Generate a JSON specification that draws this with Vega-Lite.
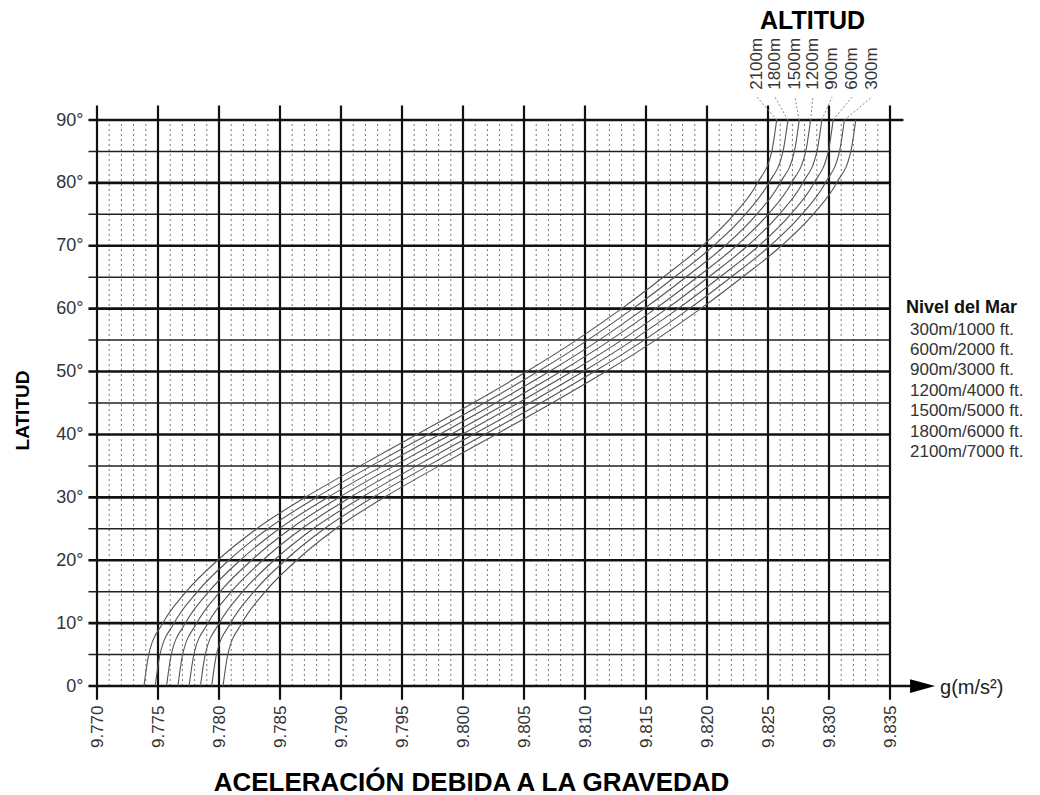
{
  "$schema": "https://vega.github.io/schema/vega-lite/v6.json",
  "width": 793,
  "height": 566,
  "autosize": {"type": "none"},
  "padding": {"left": 97, "top": 120, "right": 150, "bottom": 109},
  "background": "white",
  "config": {"view": {"stroke": null}, "font": "Liberation Sans"},
  "datasets": {
    "vmen": [{"g":9.771},{"g":9.772},{"g":9.773},{"g":9.774},{"g":9.776},{"g":9.777},{"g":9.778},{"g":9.779},{"g":9.781},{"g":9.782},{"g":9.783},{"g":9.784},{"g":9.786},{"g":9.787},{"g":9.788},{"g":9.789},{"g":9.791},{"g":9.792},{"g":9.793},{"g":9.794},{"g":9.796},{"g":9.797},{"g":9.798},{"g":9.799},{"g":9.801},{"g":9.802},{"g":9.803},{"g":9.804},{"g":9.806},{"g":9.807},{"g":9.808},{"g":9.809},{"g":9.811},{"g":9.812},{"g":9.813},{"g":9.814},{"g":9.816},{"g":9.817},{"g":9.818},{"g":9.819},{"g":9.821},{"g":9.822},{"g":9.823},{"g":9.824},{"g":9.826},{"g":9.827},{"g":9.828},{"g":9.829},{"g":9.831},{"g":9.832},{"g":9.833},{"g":9.834}],
    "vmay": [{"g":9.770},{"g":9.775},{"g":9.780},{"g":9.785},{"g":9.790},{"g":9.795},{"g":9.800},{"g":9.805},{"g":9.810},{"g":9.815},{"g":9.820},{"g":9.825},{"g":9.830},{"g":9.835}],
    "hmay": [{"lat":10},{"lat":20},{"lat":30},{"lat":40},{"lat":50},{"lat":60},{"lat":70},{"lat":80}],
    "hmen": [{"lat":5},{"lat":15},{"lat":25},{"lat":35},{"lat":45},{"lat":55},{"lat":65},{"lat":75},{"lat":85}],
    "series": [
      {"h":300,"leyenda":"300m/1000 ft.","etiqueta":"300m","g":9.83352,"g90":9.83126},
      {"h":600,"leyenda":"600m/2000 ft.","etiqueta":"600m","g":9.83189,"g90":9.83034},
      {"h":900,"leyenda":"900m/3000 ft.","etiqueta":"900m","g":9.83025,"g90":9.82941},
      {"h":1200,"leyenda":"1200m/4000 ft.","etiqueta":"1200m","g":9.82869,"g90":9.82849},
      {"h":1500,"leyenda":"1500m/5000 ft.","etiqueta":"1500m","g":9.82721,"g90":9.82756},
      {"h":1800,"leyenda":"1800m/6000 ft.","etiqueta":"1800m","g":9.82557,"g90":9.82663},
      {"h":2100,"leyenda":"2100m/7000 ft.","etiqueta":"2100m","g":9.82410,"g90":9.82571}
    ],
    "curvas": [
      {"h":0,"lat":0,"g":9.78033},{"h":0,"lat":5,"g":9.78072},{"h":0,"lat":10,"g":9.78188},{"h":0,"lat":15,"g":9.78379},{"h":0,"lat":20,"g":9.78637},{"h":0,"lat":25,"g":9.78956},{"h":0,"lat":30,"g":9.79355},{"h":0,"lat":35,"g":9.79804},{"h":0,"lat":40,"g":9.80270},{"h":0,"lat":45,"g":9.80730},{"h":0,"lat":50,"g":9.81170},{"h":0,"lat":55,"g":9.81578},{"h":0,"lat":60,"g":9.81948},{"h":0,"lat":65,"g":9.82289},{"h":0,"lat":70,"g":9.82610},{"h":0,"lat":75,"g":9.82870},{"h":0,"lat":80,"g":9.83062},{"h":0,"lat":85,"g":9.83179},{"h":0,"lat":90,"g":9.83219},
      {"h":300,"lat":0,"g":9.77940},{"h":300,"lat":5,"g":9.77979},{"h":300,"lat":10,"g":9.78095},{"h":300,"lat":15,"g":9.78286},{"h":300,"lat":20,"g":9.78544},{"h":300,"lat":25,"g":9.78863},{"h":300,"lat":30,"g":9.79262},{"h":300,"lat":35,"g":9.79711},{"h":300,"lat":40,"g":9.80177},{"h":300,"lat":45,"g":9.80637},{"h":300,"lat":50,"g":9.81077},{"h":300,"lat":55,"g":9.81485},{"h":300,"lat":60,"g":9.81855},{"h":300,"lat":65,"g":9.82196},{"h":300,"lat":70,"g":9.82517},{"h":300,"lat":75,"g":9.82777},{"h":300,"lat":80,"g":9.82969},{"h":300,"lat":85,"g":9.83086},{"h":300,"lat":90,"g":9.83126},
      {"h":600,"lat":0,"g":9.77848},{"h":600,"lat":5,"g":9.77887},{"h":600,"lat":10,"g":9.78003},{"h":600,"lat":15,"g":9.78194},{"h":600,"lat":20,"g":9.78452},{"h":600,"lat":25,"g":9.78771},{"h":600,"lat":30,"g":9.79170},{"h":600,"lat":35,"g":9.79619},{"h":600,"lat":40,"g":9.80085},{"h":600,"lat":45,"g":9.80545},{"h":600,"lat":50,"g":9.80985},{"h":600,"lat":55,"g":9.81393},{"h":600,"lat":60,"g":9.81763},{"h":600,"lat":65,"g":9.82104},{"h":600,"lat":70,"g":9.82425},{"h":600,"lat":75,"g":9.82685},{"h":600,"lat":80,"g":9.82877},{"h":600,"lat":85,"g":9.82994},{"h":600,"lat":90,"g":9.83034},
      {"h":900,"lat":0,"g":9.77755},{"h":900,"lat":5,"g":9.77794},{"h":900,"lat":10,"g":9.77910},{"h":900,"lat":15,"g":9.78101},{"h":900,"lat":20,"g":9.78359},{"h":900,"lat":25,"g":9.78678},{"h":900,"lat":30,"g":9.79077},{"h":900,"lat":35,"g":9.79526},{"h":900,"lat":40,"g":9.79992},{"h":900,"lat":45,"g":9.80452},{"h":900,"lat":50,"g":9.80892},{"h":900,"lat":55,"g":9.81300},{"h":900,"lat":60,"g":9.81670},{"h":900,"lat":65,"g":9.82011},{"h":900,"lat":70,"g":9.82332},{"h":900,"lat":75,"g":9.82592},{"h":900,"lat":80,"g":9.82784},{"h":900,"lat":85,"g":9.82901},{"h":900,"lat":90,"g":9.82941},
      {"h":1200,"lat":0,"g":9.77663},{"h":1200,"lat":5,"g":9.77702},{"h":1200,"lat":10,"g":9.77818},{"h":1200,"lat":15,"g":9.78009},{"h":1200,"lat":20,"g":9.78267},{"h":1200,"lat":25,"g":9.78586},{"h":1200,"lat":30,"g":9.78985},{"h":1200,"lat":35,"g":9.79434},{"h":1200,"lat":40,"g":9.79900},{"h":1200,"lat":45,"g":9.80360},{"h":1200,"lat":50,"g":9.80800},{"h":1200,"lat":55,"g":9.81208},{"h":1200,"lat":60,"g":9.81578},{"h":1200,"lat":65,"g":9.81919},{"h":1200,"lat":70,"g":9.82240},{"h":1200,"lat":75,"g":9.82500},{"h":1200,"lat":80,"g":9.82692},{"h":1200,"lat":85,"g":9.82809},{"h":1200,"lat":90,"g":9.82849},
      {"h":1500,"lat":0,"g":9.77570},{"h":1500,"lat":5,"g":9.77609},{"h":1500,"lat":10,"g":9.77725},{"h":1500,"lat":15,"g":9.77916},{"h":1500,"lat":20,"g":9.78174},{"h":1500,"lat":25,"g":9.78493},{"h":1500,"lat":30,"g":9.78892},{"h":1500,"lat":35,"g":9.79341},{"h":1500,"lat":40,"g":9.79807},{"h":1500,"lat":45,"g":9.80267},{"h":1500,"lat":50,"g":9.80707},{"h":1500,"lat":55,"g":9.81115},{"h":1500,"lat":60,"g":9.81485},{"h":1500,"lat":65,"g":9.81826},{"h":1500,"lat":70,"g":9.82147},{"h":1500,"lat":75,"g":9.82407},{"h":1500,"lat":80,"g":9.82599},{"h":1500,"lat":85,"g":9.82716},{"h":1500,"lat":90,"g":9.82756},
      {"h":1800,"lat":0,"g":9.77477},{"h":1800,"lat":5,"g":9.77516},{"h":1800,"lat":10,"g":9.77632},{"h":1800,"lat":15,"g":9.77823},{"h":1800,"lat":20,"g":9.78081},{"h":1800,"lat":25,"g":9.78400},{"h":1800,"lat":30,"g":9.78799},{"h":1800,"lat":35,"g":9.79248},{"h":1800,"lat":40,"g":9.79714},{"h":1800,"lat":45,"g":9.80174},{"h":1800,"lat":50,"g":9.80614},{"h":1800,"lat":55,"g":9.81022},{"h":1800,"lat":60,"g":9.81392},{"h":1800,"lat":65,"g":9.81733},{"h":1800,"lat":70,"g":9.82054},{"h":1800,"lat":75,"g":9.82314},{"h":1800,"lat":80,"g":9.82506},{"h":1800,"lat":85,"g":9.82623},{"h":1800,"lat":90,"g":9.82663},
      {"h":2100,"lat":0,"g":9.77385},{"h":2100,"lat":5,"g":9.77424},{"h":2100,"lat":10,"g":9.77540},{"h":2100,"lat":15,"g":9.77731},{"h":2100,"lat":20,"g":9.77989},{"h":2100,"lat":25,"g":9.78308},{"h":2100,"lat":30,"g":9.78707},{"h":2100,"lat":35,"g":9.79156},{"h":2100,"lat":40,"g":9.79622},{"h":2100,"lat":45,"g":9.80082},{"h":2100,"lat":50,"g":9.80522},{"h":2100,"lat":55,"g":9.80930},{"h":2100,"lat":60,"g":9.81300},{"h":2100,"lat":65,"g":9.81641},{"h":2100,"lat":70,"g":9.81962},{"h":2100,"lat":75,"g":9.82222},{"h":2100,"lat":80,"g":9.82414},{"h":2100,"lat":85,"g":9.82531},{"h":2100,"lat":90,"g":9.82571}
    ]
  },
  "encoding": {
    "x": {"type": "quantitative", "scale": {"domain": [9.770, 9.835], "nice": false, "zero": false},
      "axis": {"values": [9.770, 9.775, 9.780, 9.785, 9.790, 9.795, 9.800, 9.805, 9.810, 9.815, 9.820, 9.825, 9.830, 9.835], "format": ".3f", "labelAngle": 270, "labelFontSize": 17, "labelColor": "#333", "labelFont": "Liberation Sans", "labelPadding": 19, "ticks": false, "domain": false, "grid": false, "title": "ACELERACIÓN DEBIDA A LA GRAVEDAD", "titleFontSize": 26, "titleFontWeight": "bold", "titleColor": "#000", "titleFont": "Liberation Sans", "titleX": 374, "titleY": 104, "titleAlign": "center", "titleBaseline": "alphabetic"}},
    "y": {"type": "quantitative", "scale": {"domain": [0, 90], "nice": false, "zero": false},
      "axis": {"values": [0, 10, 20, 30, 40, 50, 60, 70, 80, 90], "labelExpr": "datum.value + '°'", "labelFontSize": 18, "labelColor": "#333", "labelFont": "Liberation Sans", "labelPadding": 14, "ticks": false, "domain": false, "grid": false, "title": "LATITUD", "titleFontSize": 19, "titleFontWeight": "bold", "titleColor": "#000", "titleFont": "Liberation Sans", "titleX": -75, "titleY": 290, "titleAngle": 270, "titleAlign": "center", "titleBaseline": "middle"}}
  },
  "layer": [
    {
      "data": {"name": "vmen"},
      "mark": {"type": "rule", "color": "#777", "strokeWidth": 1, "strokeDash": [2, 3]},
      "encoding": {
        "x": {"field": "g"},
        "y": {"datum": 0},
        "y2": {"datum": 90}
      }
    },
    {
      "data": {"name": "hmen"},
      "mark": {"type": "rule", "color": "#222", "strokeWidth": 1.5},
      "encoding": {
        "y": {"field": "lat"},
        "x": {"datum": 9.7693},
        "x2": {"datum": 9.835}
      }
    },
    {
      "data": {"name": "hmay"},
      "mark": {"type": "rule", "color": "#111", "strokeWidth": 2.6},
      "encoding": {
        "y": {"field": "lat"},
        "x": {"datum": 9.7693},
        "x2": {"datum": 9.835}
      }
    },
    {
      "data": {"values": [{}]},
      "mark": {"type": "rule", "color": "#111", "strokeWidth": 2.6},
      "encoding": {
        "y": {"datum": 90},
        "x": {"datum": 9.7693},
        "x2": {"datum": 9.8361}
      }
    },
    {
      "data": {"name": "vmay"},
      "mark": {"type": "rule", "color": "#111", "strokeWidth": 2.2},
      "encoding": {
        "x": {"field": "g"},
        "y": {"datum": -2.2},
        "y2": {"datum": 92.3}
      }
    },
    {
      "data": {"values": [{}]},
      "mark": {"type": "rule", "color": "#111", "strokeWidth": 2.6},
      "encoding": {
        "y": {"datum": 0},
        "x": {"datum": 9.7693},
        "x2": {"datum": 9.8372}
      }
    },
    {
      "data": {"name": "curvas"},
      "transform": [{"filter": "datum.h == 0"}],
      "mark": {"type": "line", "color": "#555", "strokeWidth": 1.1, "interpolate": "monotone"},
      "encoding": {
        "x": {"field": "g"},
        "y": {"field": "lat"}
      }
    },
    {
      "data": {"name": "curvas"},
      "transform": [
        {"filter": "datum.h > 0"},
        {"lookup": "h", "from": {"data": {"name": "series"}, "key": "h", "fields": ["leyenda"]}}
      ],
      "mark": {"type": "line", "strokeWidth": 1.1, "interpolate": "monotone"},
      "encoding": {
        "x": {"field": "g"},
        "y": {"field": "lat"},
        "color": {"field": "leyenda", "type": "nominal",
          "scale": {"domain": ["300m/1000 ft.", "600m/2000 ft.", "900m/3000 ft.", "1200m/4000 ft.", "1500m/5000 ft.", "1800m/6000 ft.", "2100m/7000 ft."], "range": ["#555", "#555", "#555", "#555", "#555", "#555", "#555"]},
          "legend": {"title": "Nivel del Mar", "orient": "none", "legendX": 809, "legendY": 179, "titleFontSize": 18, "titleFontWeight": "bold", "titleColor": "#111", "titleFont": "Liberation Sans", "titlePadding": 4, "labelFontSize": 17, "labelColor": "#333", "labelFont": "Liberation Sans", "symbolSize": 0, "symbolOpacity": 0, "symbolStrokeWidth": 0, "labelOffset": -13, "rowPadding": 2.4}}
      }
    },
    {
      "data": {"name": "series"},
      "mark": {"type": "rule", "color": "#888", "strokeWidth": 1, "strokeDash": [2, 2]},
      "encoding": {
        "x": {"field": "g90"},
        "x2": {"field": "g"},
        "y": {"datum": 90},
        "y2": {"datum": 93.65}
      }
    },
    {
      "data": {"name": "series"},
      "mark": {"type": "text", "angle": 270, "align": "left", "baseline": "middle", "fontSize": 17, "color": "#333", "font": "Liberation Sans"},
      "encoding": {
        "x": {"field": "g"},
        "y": {"datum": 94.8},
        "text": {"field": "etiqueta"}
      }
    },
    {
      "data": {"values": [{}]},
      "mark": {"type": "text", "text": "ALTITUD", "align": "center", "baseline": "middle", "fontSize": 25, "fontWeight": "bold", "color": "#000", "font": "Liberation Sans"},
      "encoding": {
        "x": {"datum": 9.82865},
        "y": {"datum": 105.8}
      }
    },
    {
      "data": {"values": [{}]},
      "mark": {"type": "text", "text": "g(m/s²)", "align": "left", "baseline": "middle", "fontSize": 20, "color": "#222", "font": "Liberation Sans"},
      "encoding": {
        "x": {"datum": 9.8391},
        "y": {"datum": -0.3}
      }
    },
    {
      "data": {"values": [{}]},
      "mark": {"type": "point", "shape": "M -1 -0.55 L 1 0 L -1 0.55 Z", "size": 625, "filled": true, "color": "#000", "opacity": 1},
      "encoding": {
        "x": {"datum": 9.83767},
        "y": {"datum": 0}
      }
    }
  ]
}
